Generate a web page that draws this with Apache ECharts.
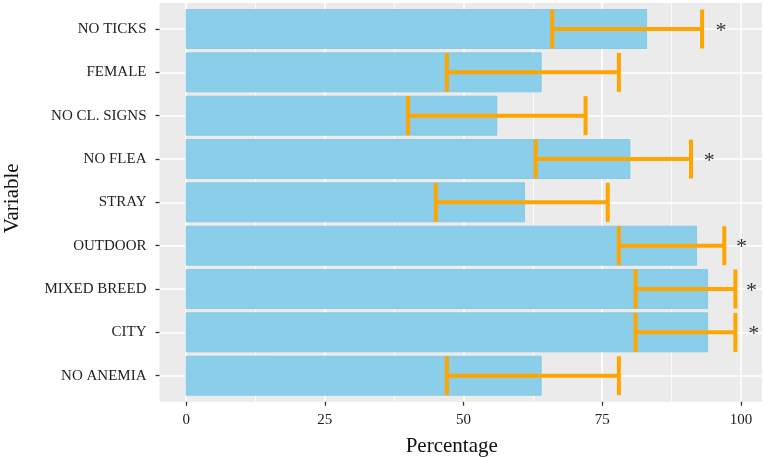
<!DOCTYPE html>
<html>
<head>
<meta charset="utf-8">
<title>Variable - Percentage</title>
<script src="https://cdn.jsdelivr.net/npm/echarts@6.0.0/dist/echarts.min.js"></script>
<style>
  html, body { margin: 0; padding: 0; background: #fff; }
  #graficavariables { width: 765px; height: 458px; }
</style>
</head>
<body>
<div id="graficavariables"></div>
<script>
// datos (de arriba hacia abajo)
var categorias = ['NO TICKS', 'FEMALE', 'NO CL. SIGNS', 'NO FLEA', 'STRAY', 'OUTDOOR', 'MIXED BREED', 'CITY', 'NO ANEMIA']
var porcentajes = [83, 64, 56, 80, 61, 92, 94, 94, 64]
var limiteinferior = [66, 47, 40, 63, 45, 78, 81, 81, 47]
var limitesuperior = [93, 78, 72, 91, 76, 97, 99, 99, 78]
// posicion x de los asteriscos (null = sin asterisco)
var asteriscos = [96.4, null, null, 94.3, null, 100.1, 101.9, 102.3, null]
var ticksx = [0, 25, 50, 75, 100]
var ticksxmenores = [12.5, 37.5, 62.5, 87.5]

var fuente = 'Liberation Serif'
var indices = categorias.map(function (c, i) { return i })

function dibujarbarra(params, api) {
    var base = api.coord([0, api.value(1)])
    var tope = api.coord([api.value(0), api.value(1)])
    var alto = api.size([0, 0.9])[1]
    return {
        type: 'rect',
        shape: { x: base[0], y: base[1] - alto / 2, width: tope[0] - base[0], height: alto },
        style: { fill: '#8BCEEA', stroke: '#7CC6E6', lineWidth: 0.8 }
    }
}

function dibujarerror(params, api) {
    var fila = api.value(2)
    var izq = api.coord([api.value(0), fila])
    var der = api.coord([api.value(1), fila])
    var alto = api.size([0, 0.9])[1]
    var estilo = { stroke: '#FFA500', lineWidth: 4 }
    return {
        type: 'group',
        children: [
            { type: 'line', shape: { x1: izq[0], y1: izq[1], x2: der[0], y2: der[1] }, style: estilo },
            { type: 'line', shape: { x1: izq[0], y1: izq[1] - alto / 2, x2: izq[0], y2: izq[1] + alto / 2 }, style: estilo },
            { type: 'line', shape: { x1: der[0], y1: der[1] - alto / 2, x2: der[0], y2: der[1] + alto / 2 }, style: estilo }
        ]
    }
}

myChart = echarts.init(document.getElementById('graficavariables'))
option = {
    animation: false,
    grid: {
        left: 159.5,
        right: 3,
        top: 3,
        bottom: 56.3,
        outerBoundsMode: 'none',
        show: true,
        backgroundColor: '#EBEBEB',
        borderWidth: 0
    },
    xAxis: [
        {
            type: 'value',
            min: -4.8,
            max: 103.8,
            position: 'bottom',
            name: 'Percentage',
            nameLocation: 'middle',
            nameGap: 34,
            nameTextStyle: { fontFamily: fuente, fontSize: 21, color: '#111', padding: [0, 18, 0, 0] },
            axisLine: { show: false, onZero: false },
            axisTick: { show: true, customValues: ticksx, length: 4, lineStyle: { color: '#333', width: 1.3 } },
            axisLabel: { customValues: ticksx, margin: 11, fontFamily: fuente, fontSize: 15, color: '#222' },
            splitLine: { show: true, lineStyle: { color: '#fff', width: 1.6 } }
        },
        {
            type: 'value',
            min: -4.8,
            max: 103.8,
            position: 'bottom',
            axisLine: { show: false, onZero: false },
            axisTick: { show: false, customValues: ticksxmenores },
            axisLabel: { show: false },
            splitLine: { show: true, lineStyle: { color: '#fff', width: 0.8 } }
        }
    ],
    yAxis: {
        type: 'value',
        min: -0.6,
        max: 8.6,
        inverse: true,
        name: 'Variable',
        nameLocation: 'middle',
        nameGap: 137,
        nameTextStyle: { fontFamily: fuente, fontSize: 21, color: '#111', padding: [0, 0, 0, 8] },
        axisLine: { show: false, onZero: false },
        axisTick: { show: true, customValues: indices, length: 4, lineStyle: { color: '#333', width: 1.3 } },
        axisLabel: {
            customValues: indices,
            margin: 13,
            fontFamily: fuente,
            fontSize: 15,
            color: '#222',
            formatter: function (v) { return categorias[Math.round(v)] }
        },
        splitLine: { show: true, lineStyle: { color: '#fff', width: 1.6 } }
    },
    series: [
        {
            type: 'custom',
            name: 'Percentage',
            xAxisIndex: 0,
            renderItem: dibujarbarra,
            encode: { x: 0, y: 1 },
            data: porcentajes.map(function (v, i) { return [v, i] })
        },
        {
            type: 'custom',
            name: 'IC',
            xAxisIndex: 0,
            renderItem: dibujarerror,
            encode: { x: [0, 1], y: 2 },
            data: limiteinferior.map(function (v, i) { return [v, limitesuperior[i], i] })
        },
        {
            type: 'scatter',
            name: 'Significativo',
            xAxisIndex: 0,
            symbolSize: 0,
            silent: true,
            label: {
                show: true,
                position: 'inside',
                offset: [0, 2],
                formatter: '*',
                fontFamily: fuente,
                fontSize: 22,
                color: '#000',
                textBorderWidth: 0
            },
            data: asteriscos.map(function (v, i) { return [v, i] }).filter(function (d) { return d[0] != null })
        }
    ]
}
myChart.setOption(option)
</script>
</body>
</html>
